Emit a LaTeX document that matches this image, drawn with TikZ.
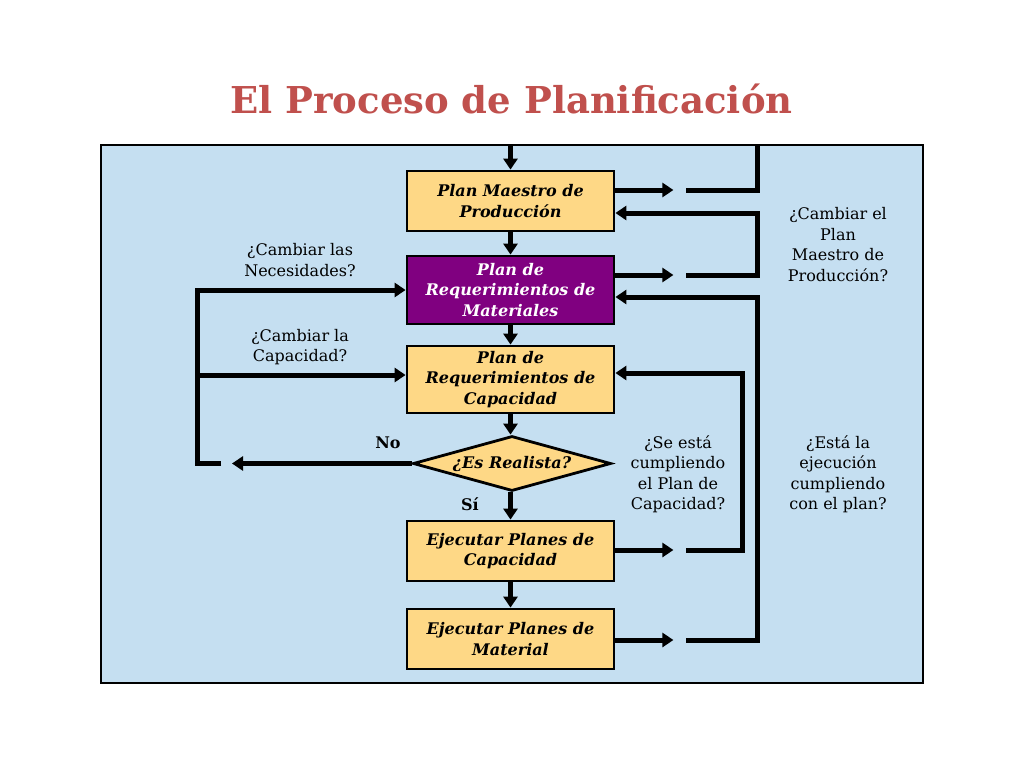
\documentclass[tikz,border=0pt]{standalone}
\usepackage{fontspec}
\setmainfont{DejaVu Serif}
\usetikzlibrary{arrows.meta,shapes.geometric}
\definecolor{bgblue}{RGB}{197,223,241}
\definecolor{boxyel}{RGB}{254,216,134}
\definecolor{boxpur}{RGB}{128,0,128}
\definecolor{titred}{RGB}{192,80,77}
\begin{document}
\begin{tikzpicture}[x=1pt,y=-1pt,
  box/.style={draw=black,line width=2.8pt,fill=boxyel,minimum width=207pt,minimum height=60pt,inner sep=0pt,align=center,font=\fontsize{16}{20.5}\selectfont\bfseries\itshape},
  dia/.style={draw=black,line width=2.8pt,fill=boxyel,diamond,aspect=3.6,minimum width=198pt,minimum height=55pt,inner sep=0pt,font=\fontsize{16}{20.5}\selectfont\bfseries\itshape},
  lbl/.style={align=center,font=\fontsize{16}{20.5}\selectfont,inner sep=0pt},
  blbl/.style={font=\fontsize{16}{20.5}\selectfont\bfseries,inner sep=0pt},
  conn/.style={line width=5pt,line join=miter},
  arr/.style={conn,-{Triangle[length=11pt,width=14pt]}}]
\useasboundingbox (0,0) rectangle (1024,768);
\fill[white] (0,0) rectangle (1024,768);
\node[anchor=base,text=titred,font=\fontsize{37}{40}\selectfont\bfseries,inner sep=0pt] (title) at (511.5,113) {El Proceso de Planificación};
\draw[fill=bgblue,line width=1.6pt] (101,145) rectangle (923,683);
% boxes
\node[box] (pmp) at (510.5,201) {Plan Maestro de\\Producción};
\node[box,fill=boxpur,text=white,minimum height=68pt] (prm) at (510.5,290) {Plan de\\Requerimientos de\\Materiales};
\node[box,minimum height=67pt] (prc) at (510.5,379.5) {Plan de\\Requerimientos de\\Capacidad};
\node[dia] (real) at (512,463.5) {¿Es Realista?};
\node[box] (epc) at (510.5,551) {Ejecutar Planes de\\Capacidad};
\node[box] (epm) at (510.5,639) {Ejecutar Planes de\\Material};
% vertical flow
\coordinate (topin) at (510.5,145);
\draw[arr] (topin) -- (pmp);
\draw[arr] (pmp) -- (prm);
\draw[arr] (prm) -- (prc);
\draw[arr] (prc) -- (prc |- real.north);
\draw[arr] (real.south -| epc) -- (epc);
\draw[arr] (epc) -- (epm);
% right side: PMP loop
\draw[arr] ([yshift=11pt]pmp.east) -- ++(58,0);
\coordinate (r1a) at (686,190);
\coordinate (r1b) at (757,190);
\coordinate (r1c) at (757,145);
\draw[conn] (r1a) -- (r1b) -- (r1c);
\draw[arr] ([yshift=15pt]prm.east) -- ++(58,0);
\coordinate (r2a) at (686,275);
\coordinate (r2b) at (757,275);
\coordinate (r2c) at (757,213);
\draw[arr] (r2a) -- (r2b) -- (r2c) -- ([yshift=-12pt]pmp.east);
% right side: PRM loop from EPM
\draw[arr] ([yshift=-1pt]epm.east) -- ++(58,0);
\coordinate (r3a) at (686,640);
\coordinate (r3b) at (757,640);
\coordinate (r3c) at (757,297);
\draw[arr] (r3a) -- (r3b) -- (r3c) -- ([yshift=-7pt]prm.east);
% right side: PRC loop from EPC
\draw[arr] ([yshift=1pt]epc.east) -- ++(58,0);
\coordinate (r4a) at (686,550);
\coordinate (r4b) at (742,550);
\coordinate (r4c) at (742,373);
\draw[arr] (r4a) -- (r4b) -- (r4c) -- ([yshift=6.5pt]prc.east);
% left side
\coordinate (l1) at (221,463.5);
\coordinate (l2) at (197,463.5);
\coordinate (l3) at (197,290);
\coordinate (l4) at (197,375);
\draw[arr] (real.west) -- (232,463.5);
\draw[arr] (l1) -- (l2) -- (l3) -- (prm.west);
\draw[arr] (l4) -- ([yshift=4.5pt]prc.west);
% labels
\node[lbl] (lnec) at (300,260) {¿Cambiar las\\Necesidades?};
\node[lbl] (lcap) at (300,347) {¿Cambiar la\\Capacidad?};
\node[blbl] (lno) at (388,443) {No};
\node[blbl] (lsi) at (470,504) {Sí};
\node[lbl] (lsec) at (678,474.5) {¿Se está\\cumpliendo\\el Plan de\\Capacidad?};
\node[lbl] (leje) at (838,474.5) {¿Está la\\ejecución\\cumpliendo\\con el plan?};
\node[lbl] (lpmp) at (838,244.5) {¿Cambiar el\\Plan\\Maestro de\\Producción?};
\end{tikzpicture}
\end{document}
